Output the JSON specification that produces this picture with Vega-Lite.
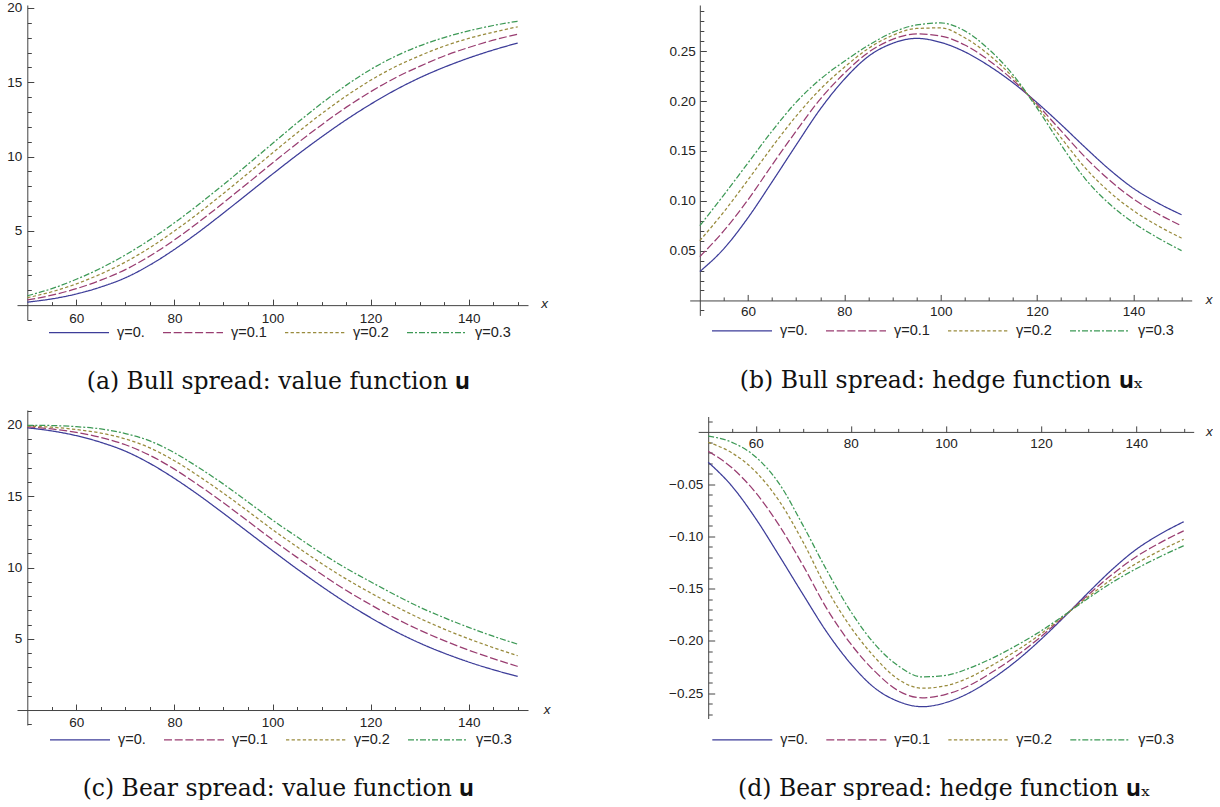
{
  "$schema": "https://vega.github.io/schema/vega-lite/v6.json",
  "padding": {"left": 6, "top": 0, "right": 0, "bottom": 0},
  "background": "white",
  "config": {
    "view": {"stroke": null},
    "axis": {"grid": false, "domainColor": "#444", "tickColor": "#444", "labelColor": "#222", "labelFont": "Liberation Sans", "labelFontSize": 13.5, "domainWidth": 1, "tickWidth": 1, "labelOverlap": false, "labelFlush": false, "titleFont": "Liberation Sans", "titleFontSize": 13.5, "titleFontStyle": "italic", "titleFontWeight": "normal", "titleColor": "#222"},
    "legend": {"orient": "none", "direction": "horizontal", "columns": 4, "symbolType": "stroke", "symbolSize": 3600, "symbolStrokeWidth": 1.3, "labelFont": "Liberation Sans", "labelFontSize": 14.5, "labelColor": "#222", "labelOffset": 7, "columnPadding": 15, "title": null},
    "title": {"font": "DejaVu Serif", "fontSize": 23.5, "fontWeight": "normal", "color": "#111", "orient": "bottom", "anchor": "middle"},
    "line": {"strokeWidth": 1.25, "interpolate": "monotone"}
  },
  "datasets": {
    "a": [
      {"x":50,"g0":0.20,"g1":0.35,"g2":0.50,"g3":0.63},
      {"x":55,"g0":0.42,"g1":0.67,"g2":0.90,"g3":1.11},
      {"x":60,"g0":0.75,"g1":1.11,"g2":1.43,"g3":1.74},
      {"x":65,"g0":1.22,"g1":1.68,"g2":2.10,"g3":2.49},
      {"x":70,"g0":1.84,"g1":2.39,"g2":2.90,"g3":3.38},
      {"x":75,"g0":2.70,"g1":3.31,"g2":3.87,"g3":4.40},
      {"x":80,"g0":3.75,"g1":4.39,"g2":4.99,"g3":5.54},
      {"x":85,"g0":4.93,"g1":5.60,"g2":6.21,"g3":6.79},
      {"x":90,"g0":6.20,"g1":6.89,"g2":7.52,"g3":8.11},
      {"x":95,"g0":7.51,"g1":8.22,"g2":8.87,"g3":9.48},
      {"x":100,"g0":8.82,"g1":9.56,"g2":10.24,"g3":10.88},
      {"x":105,"g0":10.10,"g1":10.88,"g2":11.59,"g3":12.26},
      {"x":110,"g0":11.32,"g1":12.13,"g2":12.88,"g3":13.58},
      {"x":115,"g0":12.47,"g1":13.31,"g2":14.07,"g3":14.79},
      {"x":120,"g0":13.52,"g1":14.36,"g2":15.13,"g3":15.86},
      {"x":125,"g0":14.47,"g1":15.29,"g2":16.04,"g3":16.74},
      {"x":130,"g0":15.30,"g1":16.07,"g2":16.78,"g3":17.45},
      {"x":135,"g0":16.01,"g1":16.77,"g2":17.43,"g3":18.01},
      {"x":140,"g0":16.63,"g1":17.34,"g2":17.95,"g3":18.46},
      {"x":145,"g0":17.17,"g1":17.83,"g2":18.37,"g3":18.82},
      {"x":150,"g0":17.64,"g1":18.24,"g2":18.73,"g3":19.11}
    ],
    "b": [
      {"x":50,"g0":0.029,"g1":0.044,"g2":0.060,"g3":0.075},
      {"x":55,"g0":0.052,"g1":0.070,"g2":0.089,"g3":0.106},
      {"x":60,"g0":0.083,"g1":0.101,"g2":0.121,"g3":0.138},
      {"x":65,"g0":0.119,"g1":0.136,"g2":0.154,"g3":0.170},
      {"x":70,"g0":0.156,"g1":0.170,"g2":0.185,"g3":0.199},
      {"x":75,"g0":0.192,"g1":0.202,"g2":0.212,"g3":0.222},
      {"x":80,"g0":0.222,"g1":0.228,"g2":0.234,"g3":0.240},
      {"x":85,"g0":0.245,"g1":0.249,"g2":0.253,"g3":0.256},
      {"x":90,"g0":0.258,"g1":0.262,"g2":0.266,"g3":0.269},
      {"x":95,"g0":0.263,"g1":0.2675,"g2":0.273,"g3":0.2765},
      {"x":100,"g0":0.259,"g1":0.2654,"g2":0.2735,"g3":0.2785},
      {"x":105,"g0":0.2495,"g1":0.2564,"g2":0.2636,"g3":0.2705},
      {"x":110,"g0":0.2355,"g1":0.2409,"g2":0.2466,"g3":0.252},
      {"x":115,"g0":0.2185,"g1":0.2211,"g2":0.2239,"g3":0.2265},
      {"x":120,"g0":0.1985,"g1":0.1968,"g2":0.1949,"g3":0.193},
      {"x":125,"g0":0.1765,"g1":0.1701,"g2":0.1632,"g3":0.156},
      {"x":130,"g0":0.1535,"g1":0.1437,"g2":0.133,"g3":0.122},
      {"x":135,"g0":0.1315,"g1":0.1208,"g2":0.109,"g3":0.097},
      {"x":140,"g0":0.1125,"g1":0.1018,"g2":0.0901,"g3":0.078},
      {"x":145,"g0":0.098,"g1":0.0872,"g2":0.0752,"g3":0.063},
      {"x":150,"g0":0.086,"g1":0.0748,"g2":0.0626,"g3":0.050}
    ],
    "c": [
      {"x":50,"g0":19.80,"g1":19.865,"g2":19.92,"g3":19.98},
      {"x":55,"g0":19.58,"g1":19.72,"g2":19.84,"g3":19.96},
      {"x":60,"g0":19.25,"g1":19.48,"g2":19.68,"g3":19.88},
      {"x":65,"g0":18.78,"g1":19.12,"g2":19.43,"g3":19.72},
      {"x":70,"g0":18.16,"g1":18.61,"g2":19.02,"g3":19.40},
      {"x":75,"g0":17.30,"g1":17.87,"g2":18.39,"g3":18.88},
      {"x":80,"g0":16.25,"g1":16.90,"g2":17.49,"g3":18.05},
      {"x":85,"g0":15.07,"g1":15.76,"g2":16.40,"g3":17.00},
      {"x":90,"g0":13.80,"g1":14.54,"g2":15.21,"g3":15.85},
      {"x":95,"g0":12.49,"g1":13.25,"g2":13.95,"g3":14.60},
      {"x":100,"g0":11.18,"g1":11.95,"g2":12.66,"g3":13.33},
      {"x":105,"g0":9.90,"g1":10.71,"g2":11.45,"g3":12.15},
      {"x":110,"g0":8.68,"g1":9.52,"g2":10.28,"g3":11.00},
      {"x":115,"g0":7.53,"g1":8.40,"g2":9.20,"g3":9.95},
      {"x":120,"g0":6.48,"g1":7.39,"g2":8.22,"g3":9.00},
      {"x":125,"g0":5.53,"g1":6.45,"g2":7.29,"g3":8.08},
      {"x":130,"g0":4.70,"g1":5.61,"g2":6.44,"g3":7.22},
      {"x":135,"g0":3.99,"g1":4.87,"g2":5.68,"g3":6.48},
      {"x":140,"g0":3.37,"g1":4.20,"g2":5.00,"g3":5.80},
      {"x":145,"g0":2.83,"g1":3.61,"g2":4.38,"g3":5.18},
      {"x":150,"g0":2.36,"g1":3.06,"g2":3.81,"g3":4.62}
    ],
    "d": [
      {"x":50,"g0":-0.029,"g1":-0.0185,"g2":-0.010,"g3":-0.004},
      {"x":55,"g0":-0.052,"g1":-0.0344,"g2":-0.0201,"g3":-0.010},
      {"x":60,"g0":-0.083,"g1":-0.0582,"g2":-0.0382,"g3":-0.024},
      {"x":65,"g0":-0.119,"g1":-0.090,"g2":-0.0666,"g3":-0.050},
      {"x":70,"g0":-0.156,"g1":-0.1283,"g2":-0.1058,"g3":-0.090},
      {"x":75,"g0":-0.192,"g1":-0.1696,"g2":-0.1507,"g3":-0.133},
      {"x":80,"g0":-0.222,"g1":-0.203,"g2":-0.187,"g3":-0.172},
      {"x":85,"g0":-0.245,"g1":-0.229,"g2":-0.2156,"g3":-0.203},
      {"x":90,"g0":-0.258,"g1":-0.2478,"g2":-0.2369,"g3":-0.224},
      {"x":95,"g0":-0.263,"g1":-0.2545,"g2":-0.2453,"g3":-0.2345},
      {"x":100,"g0":-0.259,"g1":-0.2512,"g2":-0.2429,"g3":-0.233},
      {"x":105,"g0":-0.2495,"g1":-0.2425,"g2":-0.2349,"g3":-0.226},
      {"x":110,"g0":-0.2355,"g1":-0.2291,"g2":-0.2226,"g3":-0.216},
      {"x":115,"g0":-0.2185,"g1":-0.2137,"g2":-0.2089,"g3":-0.204},
      {"x":120,"g0":-0.1985,"g1":-0.1959,"g2":-0.1932,"g3":-0.1905},
      {"x":125,"g0":-0.1765,"g1":-0.1759,"g2":-0.1754,"g3":-0.175},
      {"x":130,"g0":-0.1535,"g1":-0.1556,"g2":-0.1575,"g3":-0.159},
      {"x":135,"g0":-0.1315,"g1":-0.1363,"g2":-0.1406,"g3":-0.144},
      {"x":140,"g0":-0.1125,"g1":-0.1195,"g2":-0.126,"g3":-0.131},
      {"x":145,"g0":-0.098,"g1":-0.1062,"g2":-0.1137,"g3":-0.1195},
      {"x":150,"g0":-0.086,"g1":-0.0947,"g2":-0.1028,"g3":-0.109}
    ]
  },
  "resolve": {"scale": {"color": "independent", "strokeDash": "independent"}},
  "spacing": 9,
  "vconcat": [
    {
      "hconcat": [
        {
          "width": 511, "height": 315,
          "data": {"name": "a"},
          "transform": [{"fold": ["g0","g1","g2","g3"], "as": ["s","v"]}],
          "mark": {"type": "line"},
          "title": {"text": "(a) Bull spread: value function 𝐮", "dx": 6, "offset": 31},
          "encoding": {
            "x": {"field": "x", "type": "quantitative", "scale": {"domain": [47.9, 152.1], "nice": false, "zero": false},
              "axis": {"values": [55,60,65,70,75,80,85,90,95,100,105,110,115,120,125,130,135,140,145,150], "tickSize": {"condition": {"test": "datum.value % 20 === 0", "value": -6}, "value": -3.5}, "labelExpr": "datum.value % 20 === 0 ? datum.label : ''", "offset": -14.86, "labelPadding": 12.2, "title": "x", "titleX": 527, "titleY": 2.5, "titleBaseline": "alphabetic", "titleAlign": "center", "titleAnchor": null}},
            "y": {"field": "v", "type": "quantitative", "scale": {"domain": [-1, 20.2], "nice": false, "zero": false},
              "axis": {"values": [-1,1,2,3,4,5,6,7,8,9,10,11,12,13,14,15,16,17,18,19,20], "tickSize": {"condition": {"test": "datum.value % 5 === 0", "value": -6.5}, "value": -4}, "labelExpr": "datum.value % 5 === 0 && datum.value > 0 ? datum.label : ''", "offset": -10.3, "labelPadding": 12, "title": null}},
            "color": {"field": "s", "type": "nominal", "scale": {"domain": ["g0","g1","g2","g3"], "range": ["#3d3d99","#993d71","#998b3d","#3d9956"]},
              "legend": {"legendX": 31, "legendY": 296.4, "labelExpr": "'γ=0.' + (datum.label == 'g0' ? '' : substring(datum.label, 1))"}},
            "strokeDash": {"field": "s", "type": "nominal", "scale": {"domain": ["g0","g1","g2","g3"], "range": [[1,0],[8,2.7],[3.3,2.3],[6,2,2,2]]},
              "legend": {"legendX": 31, "legendY": 296.4, "labelExpr": "'γ=0.' + (datum.label == 'g0' ? '' : substring(datum.label, 1))"}}
          }
        },
        {
          "width": 502, "height": 310.4,
          "data": {"name": "b"},
          "transform": [{"fold": ["g0","g1","g2","g3"], "as": ["s","v"]}],
          "mark": {"type": "line"},
          "title": {"text": "(b) Bull spread: hedge function 𝐮ₓ", "dx": 1, "offset": 31},
          "encoding": {
            "x": {"field": "x", "type": "quantitative", "scale": {"domain": [47.9, 152.1], "nice": false, "zero": false},
              "axis": {"values": [55,60,65,70,75,80,85,90,95,100,105,110,115,120,125,130,135,140,145,150], "tickSize": {"condition": {"test": "datum.value % 20 === 0", "value": -6}, "value": -3.5}, "labelExpr": "datum.value % 20 === 0 ? datum.label : ''", "offset": -14.95, "labelPadding": 10, "title": "x", "titleX": 519, "titleY": 3.5, "titleBaseline": "alphabetic", "titleAlign": "center", "titleAnchor": null}},
            "y": {"field": "v", "type": "quantitative", "scale": {"domain": [-0.015, 0.2965], "nice": false, "zero": false},
              "axis": {"values": [-0.01,0.01,0.02,0.03,0.04,0.05,0.06,0.07,0.08,0.09,0.1,0.11,0.12,0.13,0.14,0.15,0.16,0.17,0.18,0.19,0.2,0.21,0.22,0.23,0.24,0.25,0.26,0.27,0.28,0.29], "format": ".2f", "tickSize": {"condition": {"test": "abs(round(datum.value * 100)) % 5 === 0", "value": -6.5}, "value": -4}, "labelExpr": "abs(round(datum.value * 100)) % 5 === 0 && datum.value > 0 ? datum.label : ''", "offset": -10.12, "labelPadding": 11, "title": null}},
            "color": {"field": "s", "type": "nominal", "scale": {"domain": ["g0","g1","g2","g3"], "range": ["#3d3d99","#993d71","#998b3d","#3d9956"]},
              "legend": {"legendX": 21.3, "legendY": 294.7, "labelExpr": "'γ=0.' + (datum.label == 'g0' ? '' : substring(datum.label, 1))"}},
            "strokeDash": {"field": "s", "type": "nominal", "scale": {"domain": ["g0","g1","g2","g3"], "range": [[1,0],[8,2.7],[3.3,2.3],[6,2,2,2]]},
              "legend": {"legendX": 21.3, "legendY": 294.7, "labelExpr": "'γ=0.' + (datum.label == 'g0' ? '' : substring(datum.label, 1))"}}
          }
        }
      ],
      "spacing": 161.7,
      "bounds": "flush",
      "resolve": {"scale": {"color": "independent", "strokeDash": "independent"}}
    },
    {
      "hconcat": [
        {
          "width": 511, "height": 315,
          "data": {"name": "c"},
          "transform": [{"fold": ["g0","g1","g2","g3"], "as": ["s","v"]}],
          "mark": {"type": "line"},
          "title": {"text": "(c) Bear spread: value function 𝐮", "dx": 6, "offset": 30},
          "encoding": {
            "x": {"field": "x", "type": "quantitative", "scale": {"domain": [47.9, 152.1], "nice": false, "zero": false},
              "axis": {"values": [55,60,65,70,75,80,85,90,95,100,105,110,115,120,125,130,135,140,145,150], "tickSize": {"condition": {"test": "datum.value % 20 === 0", "value": -6}, "value": -3.5}, "labelExpr": "datum.value % 20 === 0 ? datum.label : ''", "offset": -14.97, "labelPadding": 11.5, "title": "x", "titleX": 529.5, "titleY": 3.5, "titleBaseline": "alphabetic", "titleAlign": "center", "titleAnchor": null}},
            "y": {"field": "v", "type": "quantitative", "scale": {"domain": [-1.05, 21.05], "nice": false, "zero": false},
              "axis": {"values": [-1,1,2,3,4,5,6,7,8,9,10,11,12,13,14,15,16,17,18,19,20,21], "tickSize": {"condition": {"test": "datum.value % 5 === 0", "value": -6.5}, "value": -4}, "labelExpr": "datum.value % 5 === 0 && datum.value > 0 ? datum.label : ''", "offset": -10.3, "labelPadding": 12, "title": null}},
            "color": {"field": "s", "type": "nominal", "scale": {"domain": ["g0","g1","g2","g3"], "range": ["#3d3d99","#993d71","#998b3d","#3d9956"]},
              "legend": {"legendX": 32, "legendY": 298.5, "labelExpr": "'γ=0.' + (datum.label == 'g0' ? '' : substring(datum.label, 1))"}},
            "strokeDash": {"field": "s", "type": "nominal", "scale": {"domain": ["g0","g1","g2","g3"], "range": [[1,0],[8,2.7],[3.3,2.3],[6,2,2,2]]},
              "legend": {"legendX": 32, "legendY": 298.5, "labelExpr": "'γ=0.' + (datum.label == 'g0' ? '' : substring(datum.label, 1))"}}
          }
        },
        {
          "width": 495.5, "height": 302,
          "data": {"name": "d"},
          "transform": [{"fold": ["g0","g1","g2","g3"], "as": ["s","v"]}],
          "mark": {"type": "line"},
          "title": {"text": "(d) Bear spread: hedge function 𝐮ₓ", "dx": -1.5, "offset": 30},
          "encoding": {
            "x": {"field": "x", "type": "quantitative", "scale": {"domain": [47.9, 152.1], "nice": false, "zero": false},
              "axis": {"values": [55,60,65,70,75,80,85,90,95,100,105,110,115,120,125,130,135,140,145,150], "tickSize": {"condition": {"test": "datum.value % 20 === 0", "value": -6}, "value": -3.5}, "labelExpr": "datum.value % 20 === 0 ? datum.label : ''", "offset": -286.6, "labelPadding": 10.5, "title": "x", "titleX": 510.6, "titleY": 3.5, "titleBaseline": "alphabetic", "titleAlign": "center", "titleAnchor": null}},
            "y": {"field": "v", "type": "quantitative", "scale": {"domain": [-0.2743, 0.0147], "nice": false, "zero": false},
              "axis": {"values": [0.01,-0.01,-0.02,-0.03,-0.04,-0.05,-0.06,-0.07,-0.08,-0.09,-0.1,-0.11,-0.12,-0.13,-0.14,-0.15,-0.16,-0.17,-0.18,-0.19,-0.2,-0.21,-0.22,-0.23,-0.24,-0.25,-0.26,-0.27], "format": ".2f", "tickSize": {"condition": {"test": "abs(round(datum.value * 100)) % 5 === 0", "value": -6.5}, "value": -4}, "labelExpr": "abs(round(datum.value * 100)) % 5 === 0 && datum.value < 0 ? datum.label : ''", "offset": -10, "labelPadding": 12, "title": null}},
            "color": {"field": "s", "type": "nominal", "scale": {"domain": ["g0","g1","g2","g3"], "range": ["#3d3d99","#993d71","#998b3d","#3d9956"]},
              "legend": {"legendX": 13.1, "legendY": 292, "labelExpr": "'γ=0.' + (datum.label == 'g0' ? '' : substring(datum.label, 1))"}},
            "strokeDash": {"field": "s", "type": "nominal", "scale": {"domain": ["g0","g1","g2","g3"], "range": [[1,0],[8,2.7],[3.3,2.3],[6,2,2,2]]},
              "legend": {"legendX": 13.1, "legendY": 292, "labelExpr": "'γ=0.' + (datum.label == 'g0' ? '' : substring(datum.label, 1))"}}
          }
        }
      ],
      "spacing": 170.2,
      "bounds": "flush",
      "center": true,
      "resolve": {"scale": {"color": "independent", "strokeDash": "independent"}}
    }
  ]
}
